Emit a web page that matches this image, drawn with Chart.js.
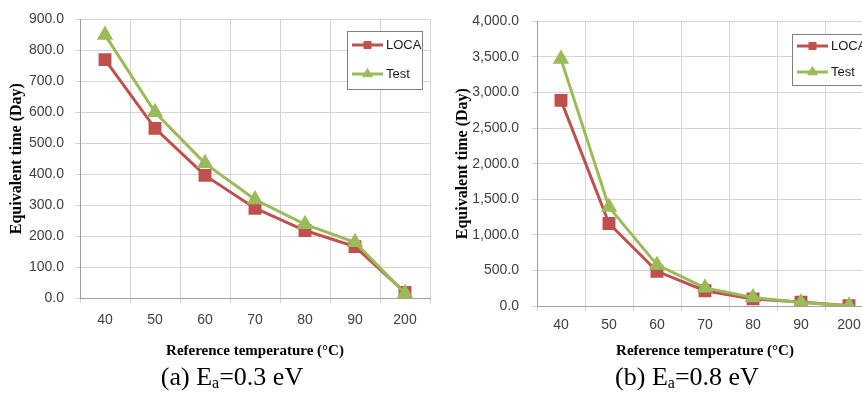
<!DOCTYPE html>
<html>
<head>
<meta charset="utf-8">
<script src="https://cdn.jsdelivr.net/npm/chart.js@4"></script>
<style>
  html, body { margin: 0; padding: 0; background: #fff; }
  body { width: 862px; height: 394px; overflow: hidden; position: relative; }
  canvas { position: absolute; top: 0; }
  #chartA { left: 0; }
  #chartB { left: 440px; }
  .caption {
    position: absolute; top: 362px; width: 240px; text-align: center;
    font-family: "Liberation Serif", serif; font-size: 26px; color: #000; line-height: 30px;
  }
  .caption sub { font-size: 16px; vertical-align: -3px; line-height: 0; }
</style>
</head>
<body>
<canvas id="chartA" width="440" height="366"></canvas>
<canvas id="chartB" width="445" height="366"></canvas>
<div class="caption" style="left:112px">(a) E<sub>a</sub>=0.3 eV</div>
<div class="caption" style="left:567px">(b) E<sub>a</sub>=0.8 eV</div>
<script>
// reference temperatures (x categories)
const temps = ['40', '50', '60', '70', '80', '90', '200'];

// (a) Ea = 0.3 eV
const locaA = [770, 548, 396, 290, 218, 166, 18];
const testA = [850, 600, 435, 318, 238, 180, 15];
const yRangeA = [0, 900, 100];

// (b) Ea = 0.8 eV
const locaB = [2890, 1160, 488, 215, 100, 55, 3];
const testB = [3470, 1390, 578, 255, 120, 50, 2];
const yRangeB = [0, 4000, 500];

const RED = '#C0504D';
const GREEN = '#9BBB59';

// legend drawn as a boxed list inside the plot, like the Excel original
const boxLegend = {
    id: 'boxLegend',
    afterDraw: (chart, args, opts) => {
        const { ctx, chartArea } = chart;
        const x = Math.round(chartArea.left + opts.dx);
        const y = Math.round(chartArea.top + opts.dy);
        ctx.save();
        ctx.fillStyle = '#fff';
        ctx.fillRect(x, y, opts.w, opts.h);
        ctx.strokeStyle = '#808080';
        ctx.lineWidth = 1;
        ctx.strokeRect(x + 0.5, y + 0.5, opts.w, opts.h);
        chart.data.datasets.forEach((ds, i) => {
            const ry = y + opts.row0 + i * opts.rowGap;
            const lx = x + 5;
            ctx.strokeStyle = ds.borderColor;
            ctx.lineWidth = 3;
            ctx.beginPath();
            ctx.moveTo(lx, ry);
            ctx.lineTo(lx + 31, ry);
            ctx.stroke();
            ctx.fillStyle = ds.pointBackgroundColor;
            ctx.strokeStyle = ds.pointBorderColor;
            ctx.lineWidth = 1;
            Chart.helpers.drawPoint(ctx, { pointStyle: ds.pointStyle, radius: ds.pointStyle === 'rect' ? 5 : 5.5, borderWidth: 1, rotation: 0 }, lx + 15.5, ry);
            ctx.fillStyle = '#1a1a1a';
            ctx.font = '13px "Liberation Sans", Arial, sans-serif';
            ctx.textBaseline = 'middle';
            ctx.textAlign = 'left';
            ctx.fillText(ds.label, lx + 34, ry);
        });
        ctx.restore();
    }
};

const makeDatasets = (loca, test) => [
    {
        label: 'LOCA',
        data: loca,
        borderColor: RED,
        backgroundColor: RED,
        pointBackgroundColor: RED,
        pointBorderColor: RED,
        pointStyle: 'rect',
        pointRadius: 7,
        borderWidth: 3,
        order: 1
    },
    {
        label: 'Test',
        data: test,
        borderColor: GREEN,
        backgroundColor: GREEN,
        pointBackgroundColor: GREEN,
        pointBorderColor: GREEN,
        pointStyle: 'triangle',
        pointRadius: 6.5,
        borderWidth: 3,
        order: 0
    }
];

const tickFont = { family: '"Liberation Sans", Arial, sans-serif', size: 14 };
const xTitleFont = { family: '"Liberation Serif", "Times New Roman", serif', size: 15, weight: 'bold' };
const yTitleFont = { family: '"Liberation Serif", "Times New Roman", serif', size: 16, weight: 'bold' };

const makeChart = (id, loca, test, yRange, cfg) => new Chart(document.getElementById(id).getContext('2d'), {
    type: 'line',
    data: { labels: temps, datasets: makeDatasets(loca, test) },
    plugins: [boxLegend],
    options: {
        responsive: false,
        animation: false,
        devicePixelRatio: 1,
        layout: { padding: { top: cfg.padTop, right: cfg.padRight, left: 0, bottom: 0 } },
        scales: {
            x: {
                offset: true,
                grid: { color: '#d4d4d4', offset: true, tickLength: 5 },
                border: { color: '#9f9f9f' },
                ticks: { font: tickFont, color: '#404040', padding: cfg.xPad, maxRotation: 0 },
                title: { display: true, text: 'Reference temperature (°C)', font: xTitleFont, color: '#000', padding: { top: 0, bottom: 6 } },
                afterFit: (scale) => { scale.height = cfg.xHeight; }
            },
            y: {
                min: yRange[0],
                max: yRange[1],
                grid: { color: '#d4d4d4', tickLength: 5 },
                border: { color: '#9f9f9f' },
                ticks: {
                    stepSize: yRange[2],
                    font: tickFont,
                    color: '#404040',
                    padding: cfg.yPad,
                    callback: (value) => value.toLocaleString('en-US', { minimumFractionDigits: 1, maximumFractionDigits: 1 })
                },
                title: { display: true, text: 'Equivalent time (Day)', font: yTitleFont, color: '#000', padding: { top: cfg.yTitlePad, bottom: 0 } },
                afterFit: (scale) => { scale.width = cfg.yWidth; }
            }
        },
        plugins: {
            legend: { display: false },
            tooltip: { enabled: false },
            boxLegend: cfg.legend
        }
    }
});

makeChart('chartA', locaA, testA, yRangeA, {
    padTop: 17, padRight: 10, xHeight: 68, yWidth: 80,
    xPad: 8.5, yPad: 11, yTitlePad: 7.4,
    legend: { dx: 267, dy: 12, w: 75, h: 58, row0: 14, rowGap: 29 }
});

makeChart('chartB', locaB, testB, yRangeB, {
    padTop: 13, padRight: 12, xHeight: 60, yWidth: 97,
    xPad: 6, yPad: 13, yTitlePad: 13.4,
    legend: { dx: 255, dy: 13, w: 80, h: 51, row0: 12, rowGap: 26 }
});
</script>
</body>
</html>
